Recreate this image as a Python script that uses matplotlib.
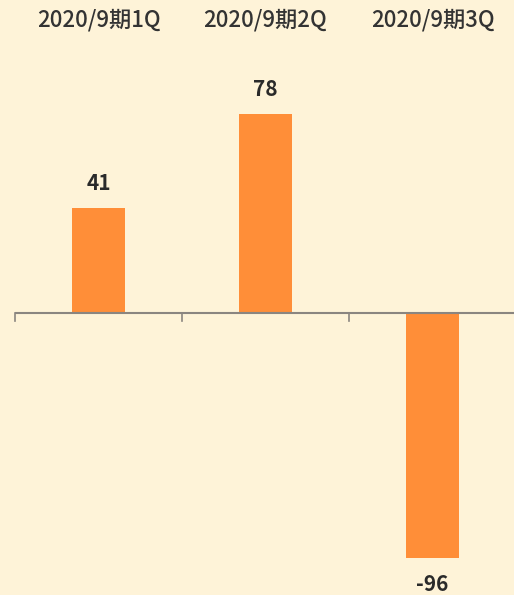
import matplotlib.pyplot as plt
import numpy as np

plt.rcParams['font.family'] = ['Noto Sans CJK JP', 'DejaVu Sans']

# Quarterly values
categories = ["2020/9期1Q", "2020/9期2Q", "2020/9期3Q"]
values = [41, 78, -96]
value_labels = ["41", "78", "-96"]

bg = "#fef3d8"
bar_color = "#ff8e38"

fig = plt.figure(figsize=(5.14, 5.95), dpi=100, facecolor=bg)
ax = fig.add_axes([15 / 514, 0, 501 / 514, 1])
ax.set_facecolor(bg)

x = np.arange(len(categories))
ax.bar(x, values, width=0.32, color=bar_color, zorder=2)

ax.set_xlim(-0.5, len(categories) - 0.5)
ax.set_ylim(-110.6, 122.7)

# zero baseline with downward ticks at category boundaries
ax.axhline(0, color="#8a8580", lw=1.5, zorder=3)
for b in np.arange(len(categories)) - 0.5:
    ax.plot([b, b], [0, -3.2], color="#8a8580", lw=1.2, zorder=3, clip_on=False)

for xi, v, lab in zip(x, values, value_labels):
    off = 9.8 if v >= 0 else -10.4
    ax.text(xi, v + off, lab, ha="center", va="center", fontsize=15,
            fontweight="bold", color="#2a2a2a")

# category names along the top
for xi, c in zip(x, categories):
    ax.text(xi, 1 - 20 / 595, c, transform=ax.get_xaxis_transform(),
            ha="center", va="center", fontsize=16, fontweight="medium",
            color="#333333")

for s in ax.spines.values():
    s.set_visible(False)
ax.set_xticks([])
ax.set_yticks([])

fig.savefig("out.png", dpi=100, facecolor=bg)
